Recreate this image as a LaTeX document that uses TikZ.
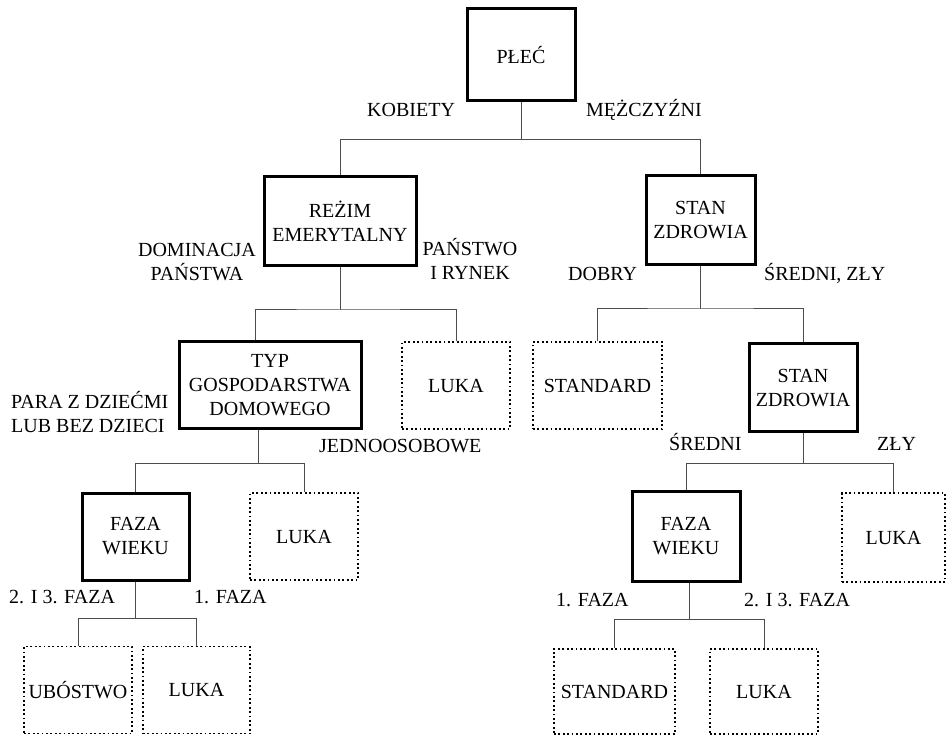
\documentclass[tikz,border=0pt]{standalone}
\usepackage{fontspec}
\setmainfont{Liberation Serif}

\begin{document}
\begin{tikzpicture}[x=1pt,y=-1pt,
    every node/.style={inner sep=0pt,font=\fontsize{20}{24}\selectfont},
    split/.style={draw,line width=3pt,align=center},
    leaf/.style={draw,line width=1.3pt,dash pattern=on 1.8pt off 2.6pt},
    lbl/.style={align=left,anchor=base west},
    clbl/.style={align=center,anchor=base},
    link/.style={line width=1pt,black!70}]
  \useasboundingbox (0,0) rectangle (946,735);
  \node[split,minimum width=108pt,minimum height=92pt](plec) at (521,55){PŁEĆ};
  \node[split,minimum width=152pt,minimum height=89pt](rezim) at (340,221){REŻIM\\EMERYTALNY};
  \node[split,minimum width=109pt,minimum height=89pt](stan) at (700.5,220){STAN\\ZDROWIA};
  \node[split,minimum width=182pt,minimum height=87pt](typ) at (270,385.5){TYP\\GOSPODARSTWA\\DOMOWEGO};
  \node[leaf,minimum width=108pt,minimum height=87pt](lukaA) at (456,385.5){LUKA};
  \node[leaf,minimum width=129pt,minimum height=87pt](standardA) at (597.5,385.5){STANDARD};
  \node[split,minimum width=108pt,minimum height=88pt](stanB) at (803,388){STAN\\ZDROWIA};
  \node[split,minimum width=107pt,minimum height=87pt](fazaA) at (135.5,536.5){FAZA\\WIEKU};
  \node[leaf,minimum width=108pt,minimum height=87pt](lukaB) at (304,536.5){LUKA};
  \node[split,minimum width=108pt,minimum height=90pt](fazaB) at (686,536){FAZA\\WIEKU};
  \node[leaf,minimum width=103pt,minimum height=89pt](lukaC) at (893.5,537.5){LUKA};
  \node[leaf,minimum width=108pt,minimum height=87pt](ubostwo) at (78,690){UBÓSTWO};
  \node[leaf,minimum width=107pt,minimum height=87pt](lukaD) at (196.5,690){LUKA};
  \node[leaf,minimum width=121pt,minimum height=85pt](standardB) at (614.5,691.5){STANDARD};
  \node[leaf,minimum width=108pt,minimum height=85pt](lukaE) at (764,691.5){LUKA};
  \draw[link](plec.south)--++(0,37)coordinate(jp);
  \draw[link](rezim.north)|-(jp)-|(stan.north);
  \draw[link](rezim.south)--++(0,43)coordinate(jr);
  \draw[link]([xshift=-15pt]typ.north)|-(jr)-|(lukaA.north);
  \draw[link](stan.south)--++(0,43)coordinate(js);
  \draw[link](standardA.north)|-(js)-|(stanB.north);
  \draw[link]([xshift=-12pt]typ.south)--++(0,33)coordinate(jt);
  \draw[link](fazaA.north)|-(jt)-|(lukaB.north);
  \draw[link](stanB.south)--++(0,30)coordinate(jz);
  \draw[link](fazaB.north)|-(jz)-|(lukaC.north);
  \draw[link](fazaA.south)--++(0,37)coordinate(jf);
  \draw[link](ubostwo.north)|-(jf)-|(lukaD.north);
  \draw[link]([xshift=3pt]fazaB.south)--++(0,37)coordinate(jg);
  \draw[link](standardB.north)|-(jg)-|(lukaE.north);
  \node[lbl](kob) at (367,117){KOBIETY};
  \node[lbl](mez) at (586,117){MĘŻCZYŹNI};
  \node[clbl](dom) at (197,281){DOMINACJA\\PAŃSTWA};
  \node[clbl](pan) at (470,280){PAŃSTWO\\I RYNEK};
  \node[lbl](dob) at (568,281){DOBRY};
  \node[lbl](srz) at (764,281){ŚREDNI, ZŁY};
  \node[lbl](par) at (11,432){PARA Z DZIEĆMI\\LUB BEZ DZIECI};
  \node[lbl](jed) at (319,453){JEDNOOSOBOWE};
  \node[lbl](sre) at (669,451){ŚREDNI};
  \node[lbl](zly) at (877,451){ZŁY};
  \node[lbl](fzA) at (9,603){2. I 3. FAZA};
  \node[lbl](fjA) at (194,603){1. FAZA};
  \node[lbl](fjB) at (556,606){1. FAZA};
  \node[lbl](fzB) at (744,606){2. I 3. FAZA};
\end{tikzpicture}
\end{document}
